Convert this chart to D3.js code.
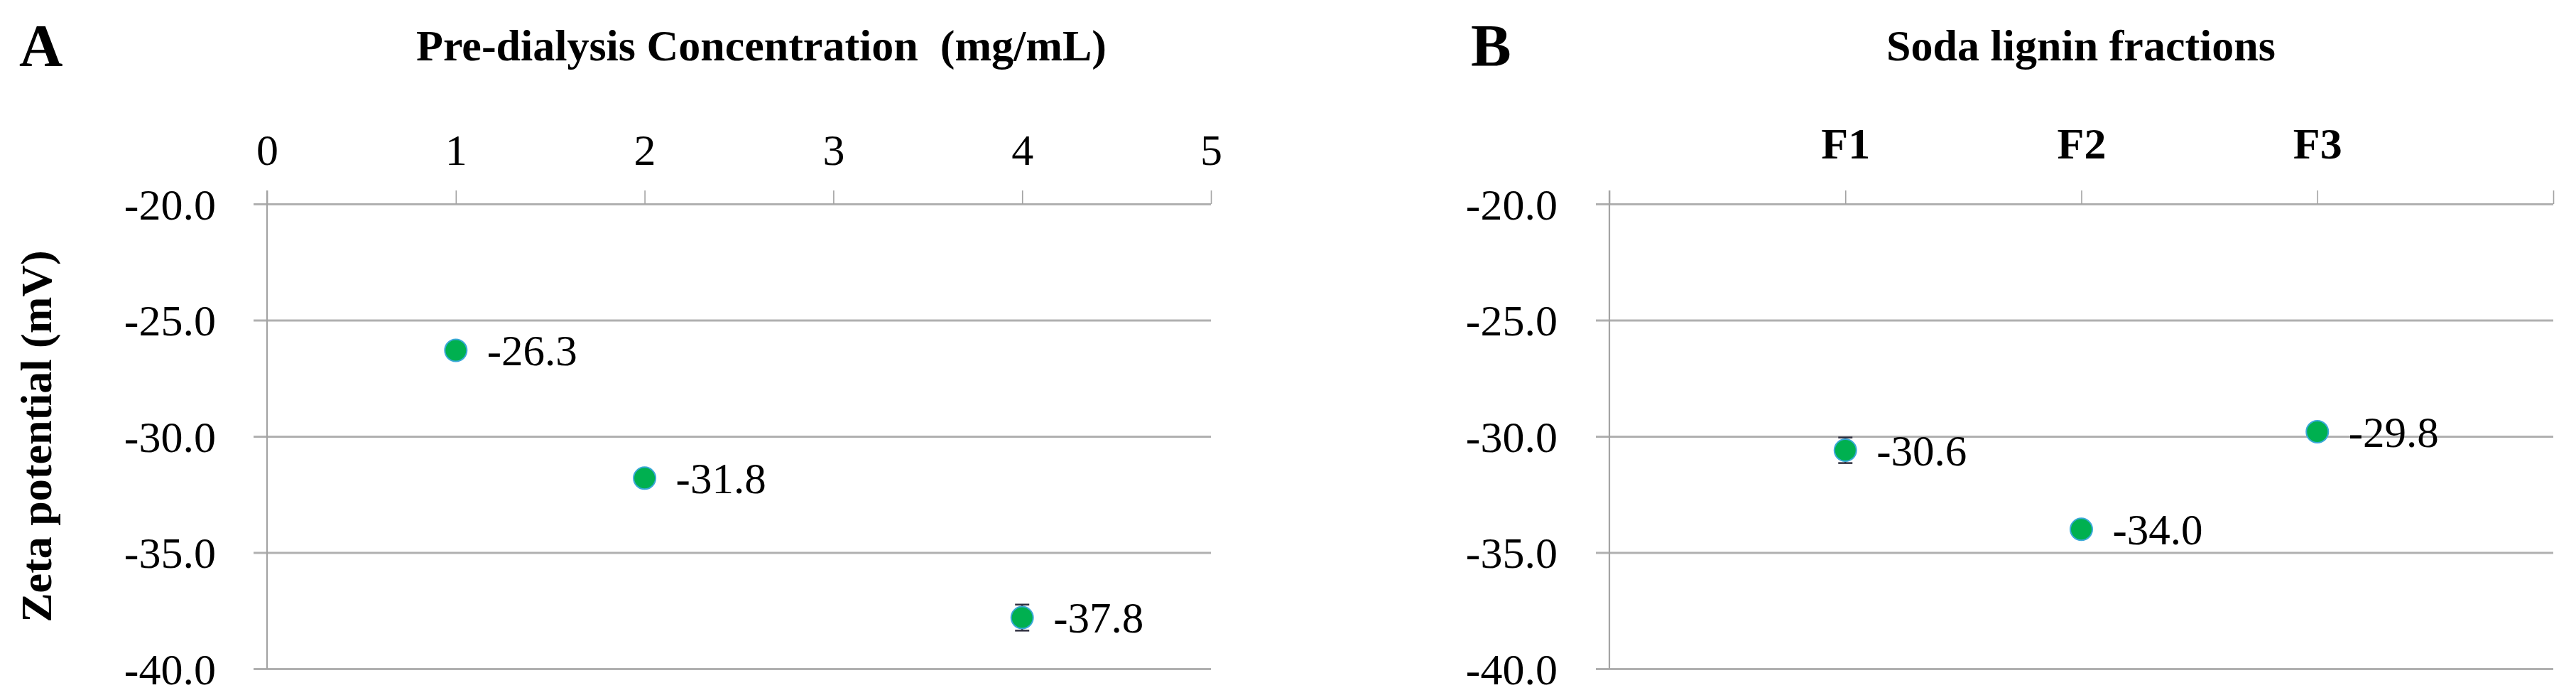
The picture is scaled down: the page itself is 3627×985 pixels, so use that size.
<!DOCTYPE html>
<html>
<head>
<meta charset="utf-8">
<script src="https://cdn.jsdelivr.net/npm/d3@7/dist/d3.min.js"></script>
<style>
  html, body { margin: 0; padding: 0; background: #fff; }
  svg { display: block; }
  text { font-family: "Liberation Serif", "Times New Roman", serif; fill: #000; }
</style>
</head>
<body>
<svg id="chart" width="3627" height="985"></svg>
<script>
// ---- Data ----
const concTicks = [0, 1, 2, 3, 4, 5];
const concX = [1, 2, 4];
const concZeta = [-26.3, -31.8, -37.8];
const concErr = [0.3, 0.3, 0.56];

const fractionLabels = ["F1", "F2", "F3"];
const fractionZeta = [-30.6, -34.0, -29.8];
const fractionErr = [0.55, 0.2, 0.2];

const yTicks = [-20, -25, -30, -35, -40];

const titleA = "Pre-dialysis Concentration  (mg/mL)";
const titleB = "Soda lignin fractions";
const yTitle = "Zeta potential (mV)";

// ---- Layout ----
const svg = d3.select("#chart");
const yTop = 287, yBot = 941;
const y = d3.scaleLinear().domain([-40, -20]).range([yBot, yTop]);

const gridColor = "#b0b0b0";
const axisColor = "#a3a3a3";
const green = "#00b050";
const rim = "#3aa8d8";
const fmt1 = v => v.toFixed(1);  // ASCII hyphen-minus, as in the reference

function panel(opts) {
  const g = svg.append("g");
  const x = opts.x;
  const [x0, x1] = x.range();

  // horizontal gridlines + y tick labels (axisLeft anchored at right edge)
  const yAxis = d3.axisLeft(y)
    .tickValues(yTicks)
    .tickSize((x1 - x0) + 19)
    .tickPadding(opts.yLabelGap)
    .tickFormat(fmt1);
  const ya = g.append("g").attr("transform", `translate(${x1},0)`).call(yAxis);
  ya.select(".domain").remove();
  ya.selectAll(".tick line").attr("stroke", gridColor).attr("stroke-width", 2.8);
  ya.selectAll(".tick text")
    .attr("font-size", 62)
    .attr("dy", "0.34em")
    .style("font-family", '"Liberation Serif", serif');

  // top x axis ticks
  const xAxis = d3.axisTop(x)
    .tickValues(opts.xTicks)
    .tickSize(19)
    .tickPadding(opts.xLabelGap)
    .tickFormat(opts.xFormat);
  const xa = g.append("g").attr("transform", `translate(0,${yTop})`).call(xAxis);
  xa.select(".domain").remove();
  xa.selectAll(".tick line").attr("stroke", axisColor).attr("stroke-width", 1.6);
  xa.selectAll(".tick text")
    .attr("font-size", 62)
    .attr("font-weight", opts.xBold ? "bold" : "normal")
    .attr("dy", "0em")
    .style("font-family", '"Liberation Serif", serif');

  // vertical y axis line
  g.append("line")
    .attr("x1", x0).attr("x2", x0)
    .attr("y1", yTop - 19).attr("y2", yBot)
    .attr("stroke", axisColor).attr("stroke-width", 2.2);

  // error bars
  const pts = opts.xs.map((v, i) => ({ x: v, y: opts.ys[i], e: opts.errs[i] }));
  const eb = g.append("g");
  pts.forEach(p => {
    const cx = x(p.x);
    eb.append("line").attr("x1", cx).attr("x2", cx)
      .attr("y1", y(p.y + p.e)).attr("y2", y(p.y - p.e))
      .attr("stroke", "#303040").attr("stroke-width", 2.5);
    [p.y + p.e, p.y - p.e].forEach(v => {
      eb.append("line").attr("x1", cx - 10).attr("x2", cx + 10)
        .attr("y1", y(v)).attr("y2", y(v))
        .attr("stroke", "#303040").attr("stroke-width", 2.5);
    });
  });

  // markers
  g.selectAll("circle.pt").data(pts).join("circle")
    .attr("class", "pt")
    .attr("cx", d => x(d.x)).attr("cy", d => y(d.y)).attr("r", 15.5)
    .attr("fill", green).attr("stroke", rim).attr("stroke-width", 2);

  // data labels
  g.selectAll("text.dl").data(pts).join("text")
    .attr("class", "dl")
    .attr("x", d => x(d.x) + 44).attr("y", d => y(d.y))
    .attr("dy", "0.35em")
    .attr("font-size", 61)
    .text(d => fmt1(d.y));

  // panel title
  g.append("text")
    .attr("x", opts.titleX).attr("y", 85)
    .attr("text-anchor", "middle")
    .attr("font-size", 62).attr("font-weight", "bold")
    .style("white-space", "pre")
    .text(opts.title);

  // panel letter
  g.append("text")
    .attr("x", opts.letterX).attr("y", 93)
    .attr("font-size", 85).attr("font-weight", "bold")
    .text(opts.letter);
}

// Panel A
const xA = d3.scaleLinear().domain([0, 5]).range([376, 1705]);
panel({
  x: xA, xTicks: concTicks, xFormat: d => String(d), xBold: false, xLabelGap: 36,
  yLabelGap: 53,
  xs: concX, ys: concZeta, errs: concErr,
  title: titleA, titleX: 1072, letter: "A", letterX: 27
});

// Panel B
const xB = d3.scaleLinear().domain([0, 4]).range([2266, 3595]);
const fracIdx = fractionLabels.map((d, i) => i + 1);
panel({
  x: xB, xTicks: [0, 1, 2, 3, 4],
  xFormat: d => (d >= 1 && d <= fractionLabels.length) ? fractionLabels[d - 1] : "",
  xBold: true, xLabelGap: 45,
  yLabelGap: 54,
  xs: fracIdx, ys: fractionZeta, errs: fractionErr,
  title: titleB, titleX: 2930, letter: "B", letterX: 2071
});

// Y axis title
svg.append("text")
  .attr("transform", `translate(72,${(yTop + yBot) / 2}) rotate(-90)`)
  .attr("text-anchor", "middle")
  .attr("font-size", 62).attr("font-weight", "bold")
  .text(yTitle);
</script>
</body>
</html>
